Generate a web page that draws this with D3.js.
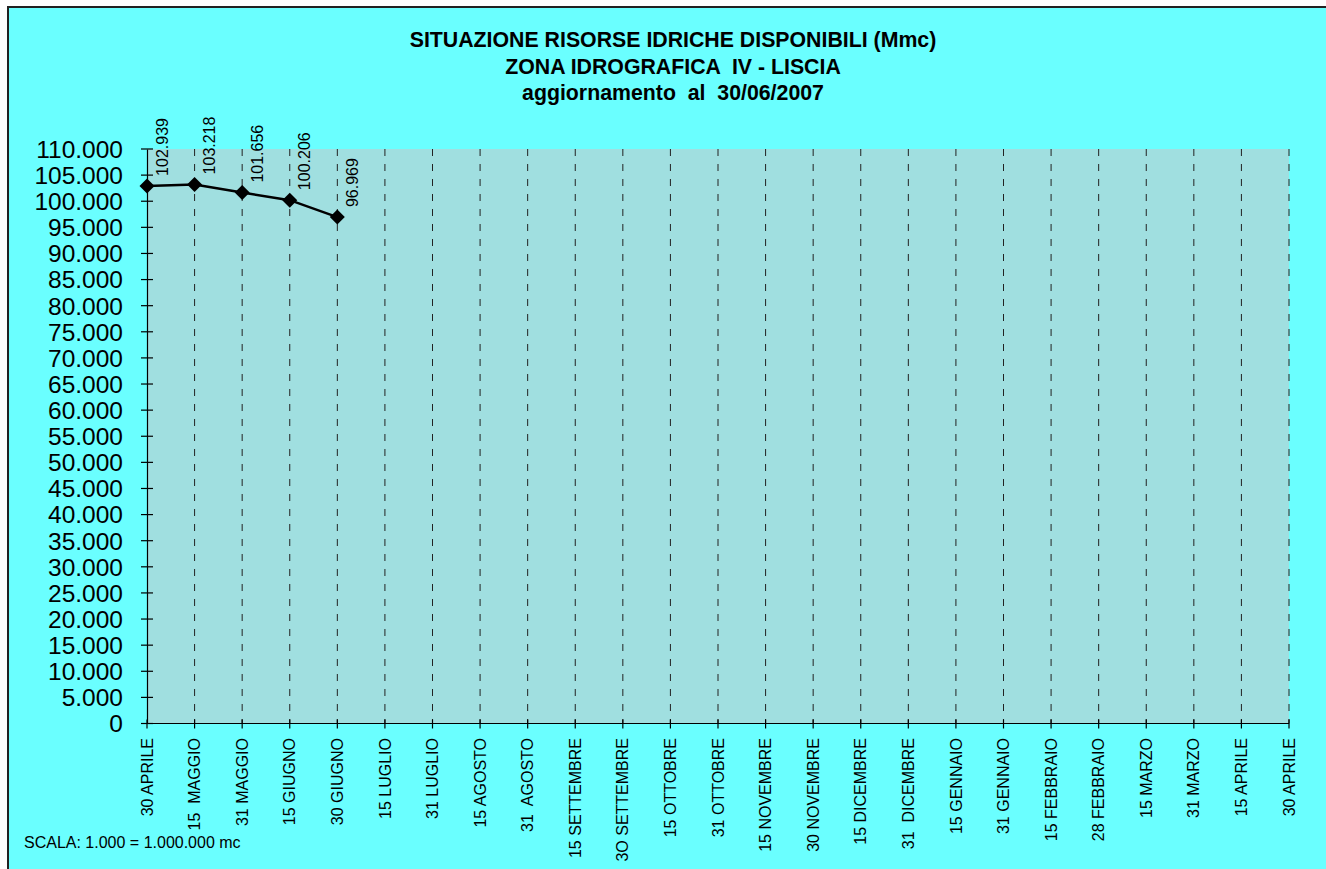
<!DOCTYPE html>
<html>
<head>
<meta charset="utf-8">
<script src="https://cdn.jsdelivr.net/npm/d3@7"></script>
<style>
  body { margin: 0; background: #ffffff; }
  svg { display: block; font-family: "Liberation Sans", Arial, sans-serif; }
  text { white-space: pre; }
</style>
</head>
<body>
<svg width="1326" height="869" viewBox="0 0 1326 869"></svg>
<script>
// Categories along the x axis (as printed on the chart)
const categories = [
    "30 APRILE", "15  MAGGIO", "31 MAGGIO", "15 GIUGNO", "30 GIUGNO",
    "15 LUGLIO", "31 LUGLIO", "15 AGOSTO", "31  AGOSTO", "15 SETTEMBRE",
    "3O SETTEMBRE", "15 OTTOBRE", "31 OTTOBRE", "15 NOVEMBRE", "30 NOVEMBRE",
    "15 DICEMBRE", "31  DICEMBRE", "15 GENNAIO", "31 GENNAIO", "15 FEBBRAIO",
    "28 FEBBRAIO", "15 MARZO", "31 MARZO", "15 APRILE", "30 APRILE"
];

// Available water volume (thousands of mc), only first dates filled
const volumes = [102939, 103218, 101656, 100206, 96969];

const titleLines = [
    "SITUAZIONE RISORSE IDRICHE DISPONIBILI (Mmc)",
    "ZONA IDROGRAFICA  IV - LISCIA",
    "aggiornamento  al  30/06/2007"
];

const yMax = 110000;
const yStep = 5000;

const svg = d3.select("svg");

// Chart background + frame
svg.append("rect")
    .attr("x", 8).attr("y", 7)
    .attr("width", 1340).attr("height", 880)
    .attr("fill", "#6affff")
    .attr("stroke", "#222")
    .attr("stroke-width", 2);

// Title
svg.append("g")
    .selectAll("text")
    .data(titleLines)
    .enter()
    .append("text")
    .attr("x", 673)
    .attr("y", (d, i) => 47 + i * 26.5)
    .attr("text-anchor", "middle")
    .attr("font-size", 21.3)
    .attr("font-weight", "bold")
    .attr("fill", "#000")
    .text(d => d);

// Plot area
const plot = { left: 147, right: 1289, top: 149, bottom: 723.5 };

const x = d3.scalePoint()
    .domain(d3.range(categories.length))
    .range([plot.left, plot.right]);

const y = d3.scaleLinear()
    .domain([0, yMax])
    .range([plot.bottom, plot.top]);

svg.append("rect")
    .attr("x", plot.left).attr("y", plot.top)
    .attr("width", plot.right - plot.left)
    .attr("height", plot.bottom - plot.top)
    .attr("fill", "#a0dfe0");

// Dashed vertical gridlines
svg.append("g")
    .selectAll("line")
    .data(d3.range(1, categories.length))
    .enter()
    .append("line")
    .attr("x1", d => x(d)).attr("x2", d => x(d))
    .attr("y1", plot.top).attr("y2", plot.bottom)
    .attr("stroke", "#222")
    .attr("stroke-width", 1)
    .attr("stroke-dasharray", "7,8");

// Y axis
const yTicks = d3.range(0, yMax + 1, yStep);
const yFormat = v => v === 0 ? "0" : d3.format(",")(v).replace(/,/g, ".");

const yAxis = svg.append("g")
    .attr("transform", `translate(${plot.left},0)`)
    .call(d3.axisLeft(y).tickValues(yTicks).tickSize(0).tickFormat(""));
yAxis.select(".domain").attr("stroke", "#000").attr("stroke-width", 1.2);

svg.append("g")
    .selectAll("line")
    .data(yTicks)
    .enter()
    .append("line")
    .attr("x1", plot.left - 6).attr("x2", plot.left + 6)
    .attr("y1", d => y(d)).attr("y2", d => y(d))
    .attr("stroke", "#000")
    .attr("stroke-width", 1.2);

svg.append("g")
    .selectAll("text")
    .data(yTicks)
    .enter()
    .append("text")
    .attr("x", 123)
    .attr("y", d => y(d))
    .attr("dy", "0.36em")
    .attr("text-anchor", "end")
    .attr("font-size", 24.5)
    .attr("fill", "#000")
    .text(yFormat);

// X axis
svg.append("line")
    .attr("x1", plot.left).attr("x2", plot.right)
    .attr("y1", plot.bottom).attr("y2", plot.bottom)
    .attr("stroke", "#000")
    .attr("stroke-width", 1.2);

svg.append("g")
    .selectAll("line")
    .data(d3.range(categories.length))
    .enter()
    .append("line")
    .attr("x1", d => x(d)).attr("x2", d => x(d))
    .attr("y1", plot.bottom - 4).attr("y2", plot.bottom + 5)
    .attr("stroke", "#000")
    .attr("stroke-width", 1.2);

svg.append("g")
    .selectAll("text")
    .data(categories)
    .enter()
    .append("text")
    .attr("transform", (d, i) => `translate(${x(i)},738) rotate(-90)`)
    .attr("dy", "0.35em")
    .attr("text-anchor", "end")
    .attr("font-size", 16)
    .attr("fill", "#000")
    .text(d => d);

// Series line + diamond markers
const line = d3.line()
    .x((d, i) => x(i))
    .y(d => y(d));

svg.append("path")
    .datum(volumes)
    .attr("d", line)
    .attr("fill", "none")
    .attr("stroke", "#000")
    .attr("stroke-width", 2.5);

svg.append("g")
    .selectAll("path")
    .data(volumes)
    .enter()
    .append("path")
    .attr("transform", (d, i) => `translate(${x(i)},${y(d)})`)
    .attr("d", "M0,-7.5L7.5,0L0,7.5L-7.5,0Z")
    .attr("fill", "#000");

// Data labels
const labelFormat = v => d3.format(",")(v).replace(/,/g, ".");
svg.append("g")
    .selectAll("text")
    .data(volumes)
    .enter()
    .append("text")
    .attr("transform", (d, i) => `translate(${x(i) + 15},${y(d) - 10}) rotate(-90)`)
    .attr("dy", "0.35em")
    .attr("font-size", 16)
    .attr("fill", "#000")
    .text(labelFormat);

// Scale note
svg.append("text")
    .attr("x", 24)
    .attr("y", 848)
    .attr("font-size", 16)
    .attr("fill", "#000")
    .text("SCALA: 1.000 = 1.000.000 mc");
</script>
</body>
</html>
